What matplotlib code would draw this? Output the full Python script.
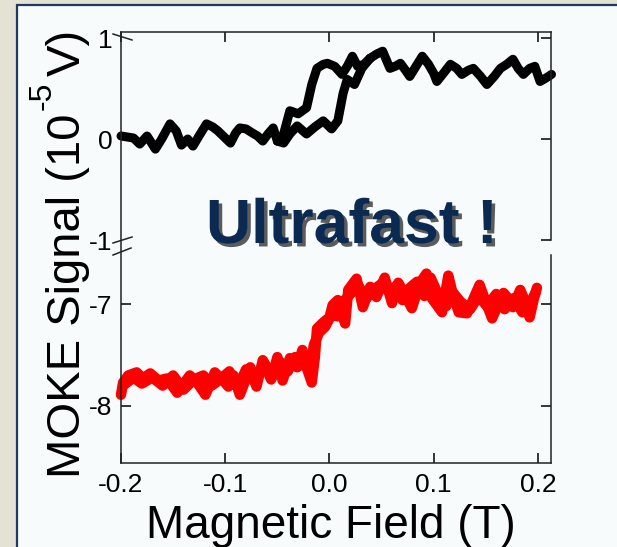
import matplotlib as mpl
mpl.use('Agg')
import matplotlib.pyplot as plt
import matplotlib.patheffects as pe
from matplotlib.lines import Line2D
from matplotlib.patches import Rectangle

plt.rcParams['font.family'] = ['Liberation Sans', 'DejaVu Sans']
plt.rcParams['axes.unicode_minus'] = False

# upper trace (black): shared ends plus the two switching branches
bk_left_x = [-0.200, -0.188, -0.182, -0.175, -0.167, -0.161, -0.153, -0.147, -0.142,
             -0.136, -0.131, -0.124, -0.118, -0.112, -0.107, -0.101, -0.095, -0.090,
             -0.086, -0.080, -0.074, -0.069, -0.064, -0.059, -0.054, -0.050]
bk_left_y = [0.03, 0.01, -0.05, 0.03, -0.10, 0.00, 0.15, 0.08, -0.06,
             0.00, -0.07, 0.05, 0.15, 0.12, 0.08, 0.02, -0.04, 0.06,
             0.11, 0.10, 0.06, 0.03, -0.02, 0.05, 0.11, -0.02]
bk_a_x = [-0.050, -0.044, -0.038, -0.030, -0.022, -0.017, -0.012, -0.006,
          -0.002, 0.005, 0.012, 0.017, 0.022, 0.027, 0.033, 0.039]
bk_a_y = [-0.02, 0.05, 0.28, 0.25, 0.31, 0.54, 0.70, 0.74,
          0.75, 0.72, 0.64, 0.72, 0.82, 0.72, 0.74, 0.80]
bk_b_x = [-0.050, -0.044, -0.038, -0.031, -0.022, -0.014, -0.006,
          0.002, 0.008, 0.013, 0.017, 0.024, 0.031, 0.039]
bk_b_y = [-0.02, -0.04, 0.05, 0.13, 0.05, 0.12, 0.18,
          0.10, 0.18, 0.45, 0.59, 0.54, 0.70, 0.80]
bk_right_x = [0.039, 0.045, 0.051, 0.058, 0.063, 0.068, 0.073, 0.077, 0.083, 0.089,
              0.095, 0.100, 0.103, 0.110, 0.116, 0.122, 0.127, 0.133, 0.138, 0.145,
              0.151, 0.158, 0.164, 0.170, 0.176, 0.181, 0.186, 0.192, 0.197, 0.202,
              0.207, 0.213]
bk_right_y = [0.80, 0.84, 0.87, 0.70, 0.72, 0.75, 0.68, 0.62, 0.72, 0.82,
              0.74, 0.65, 0.57, 0.66, 0.74, 0.70, 0.64, 0.68, 0.70, 0.62,
              0.54, 0.62, 0.70, 0.74, 0.79, 0.70, 0.64, 0.70, 0.72, 0.57,
              0.60, 0.64]

# lower trace (red): two sweeps
red1_x = [-0.200, -0.198, -0.193, -0.185, -0.179, -0.172, -0.164, -0.156, -0.146, -0.139,
          -0.134, -0.127, -0.119, -0.110, -0.102, -0.097, -0.092, -0.086, -0.076, -0.070,
          -0.064, -0.055, -0.050, -0.045, -0.038, -0.031, -0.026, -0.022, -0.017, -0.014,
          -0.012, -0.006, 0.000, 0.003, 0.008, 0.015, 0.018, 0.026, 0.032, 0.039,
          0.045, 0.053, 0.060, 0.066, 0.072, 0.079, 0.087, 0.093, 0.098, 0.108,
          0.114, 0.119, 0.124, 0.132, 0.138, 0.144, 0.150, 0.156, 0.162, 0.167,
          0.172, 0.176, 0.183, 0.188, 0.192, 0.196, 0.199]
red1_y = [-7.89, -7.77, -7.70, -7.67, -7.73, -7.68, -7.75, -7.73, -7.87, -7.77,
          -7.70, -7.77, -7.89, -7.67, -7.75, -7.81, -7.70, -7.89, -7.62, -7.81,
          -7.55, -7.71, -7.52, -7.75, -7.53, -7.62, -7.45, -7.62, -7.77, -7.52,
          -7.24, -7.18, -7.13, -7.01, -6.96, -7.19, -6.86, -6.75, -7.03, -6.83,
          -6.93, -6.74, -6.99, -6.79, -6.90, -7.04, -6.79, -6.70, -6.94, -7.08,
          -6.72, -6.93, -7.08, -7.09, -6.95, -6.81, -6.98, -7.14, -7.00, -6.89,
          -6.95, -7.03, -6.86, -6.98, -7.13, -6.95, -6.84]
red2_x = [-0.198, -0.188, -0.180, -0.170, -0.160, -0.150, -0.140, -0.130, -0.121, -0.113,
          -0.105, -0.096, -0.088, -0.080, -0.072, -0.063, -0.056, -0.048, -0.040, -0.033,
          -0.027, -0.021, -0.018, -0.015, -0.010, -0.004, 0.002, 0.008, 0.013, 0.020,
          0.028, 0.035, 0.042, 0.050, 0.057, 0.064, 0.070, 0.077, 0.084, 0.091,
          0.097, 0.104, 0.112, 0.118, 0.126, 0.135, 0.143, 0.151, 0.160, 0.168,
          0.177, 0.185, 0.193, 0.198]
red2_y = [-7.80, -7.72, -7.78, -7.72, -7.80, -7.70, -7.84, -7.74, -7.70, -7.80,
          -7.74, -7.66, -7.82, -7.64, -7.76, -7.58, -7.74, -7.56, -7.66, -7.52,
          -7.60, -7.50, -7.60, -7.40, -7.28, -7.22, -7.10, -7.12, -6.98, -6.90,
          -6.82, -6.95, -6.86, -6.80, -6.88, -6.82, -6.96, -6.84, -6.78, -6.92,
          -6.74, -6.90, -7.02, -6.88, -6.98, -7.05, -6.92, -7.02, -6.90, -7.05,
          -6.94, -7.08, -6.98, -6.88]

x_ticks = [-0.2, -0.1, 0.0, 0.1, 0.2]
x_ticklabels = ['-0.2', '-0.1', '0.0', '0.1', '0.2']
top_yticks = [-1, 0, 1]
bottom_yticks = [-8, -7]

W, H = 617, 547
fig = plt.figure(figsize=(W / 100, H / 100), dpi=100)
fig.patch.set_facecolor('#e3e2d4')
fig.add_artist(Rectangle((17 / W, -0.01), 1.0, 1 - 5 / H + 0.01, transform=fig.transFigure,
                         facecolor='#f7fbfb', edgecolor='#1d3a5f', lw=1.6, zorder=0))


def px(x, y):
    return x / W, 1 - y / H


ax_t = fig.add_axes([121 / W, 1 - 240 / H, 430 / W, 208 / H])
ax_b = fig.add_axes([121 / W, 1 - 463 / H, 430 / W, 222 / H])
for ax in (ax_t, ax_b):
    ax.set_facecolor('none')
    ax.set_xlim(-0.2, 0.2125)
    for s in ax.spines.values():
        s.set_linewidth(1.1)
        s.set_color('#222222')

kw = dict(lw=6.5, solid_capstyle='round', solid_joinstyle='round', clip_on=False)
ax_t.plot(bk_left_x, bk_left_y, color='black', **kw)
ax_t.plot(bk_a_x, bk_a_y, color='black', **kw)
ax_t.plot(bk_b_x, bk_b_y, color='black', **kw)
ax_t.plot(bk_right_x, bk_right_y, color='black', **kw)
ax_t.set_ylim(-1.0, 1.06)
ax_t.spines['bottom'].set_visible(False)
ax_t.set_yticks(top_yticks)
ax_t.set_yticklabels(['-1', '0', '1'])
ax_t.set_xticks(x_ticks)
ax_t.tick_params(axis='x', which='both', bottom=False, labelbottom=False, top=True,
                 direction='in', length=7, width=1.1)
ax_t.tick_params(axis='y', direction='in', left=True, right=True, length=7, width=1.1,
                 labelsize=19, pad=6)
for i in (0, 2):
    ax_t.yaxis.get_major_ticks()[i].tick1line.set_visible(False)

red_kw = dict(lw=7.5, solid_capstyle='round', solid_joinstyle='round', clip_on=False)
ax_b.plot(red1_x, red1_y, color='#ff0000', **red_kw)
ax_b.plot(red2_x, red2_y, color='#ff0000', **red_kw)
ax_b.set_ylim(-8.56, -6.38)
ax_b.spines['top'].set_visible(False)
ax_b.spines['right'].set_bounds(-8.56, -6.52)
ax_b.set_yticks(bottom_yticks)
ax_b.set_yticklabels(['-8', '-7'])
ax_b.set_xticks(x_ticks)
ax_b.set_xticklabels(x_ticklabels)
ax_b.tick_params(axis='x', direction='in', top=False, length=7, width=1.1,
                 labelsize=19, pad=7)
ax_b.tick_params(axis='y', direction='in', left=True, right=True, length=7, width=1.1,
                 labelsize=19, pad=6)

# slanted marks at the axis break
for (x0, y0), (x1, y1) in [((113, 34), (132, 40)), ((113, 243), (132, 237)),
                           ((113, 255), (131, 248))]:
    a, b = px(x0, y0)
    c, d = px(x1, y1)
    fig.add_artist(Line2D([a, c], [b, d], transform=fig.transFigure, color='#222222', lw=1.1))

# y label in three pieces: text, raised exponent, unit
lab = dict(rotation=90, rotation_mode='anchor', ha='left', va='baseline')
fig.text(*px(80, 478), 'MOKE Signal (10', fontsize=34, **lab)
fig.text(*px(51, 110), '-5', fontsize=23, **lab)
fig.text(*px(80, 76), 'V)', fontsize=34, **lab)

fig.text(331 / W, 1 - 538 / H, 'Magnetic Field (T)', ha='center', va='baseline', fontsize=33)

shadow = [pe.withSimplePatchShadow(offset=(2.5, -2.5), shadow_rgbFace='#333333', alpha=0.8)]
fig.text(*px(206, 243), 'Ultrafast !', fontsize=45, fontweight='bold',
         color='#0b2a52', ha='left', va='baseline', path_effects=shadow)

fig.savefig('out.png', dpi=100, facecolor=fig.get_facecolor())
